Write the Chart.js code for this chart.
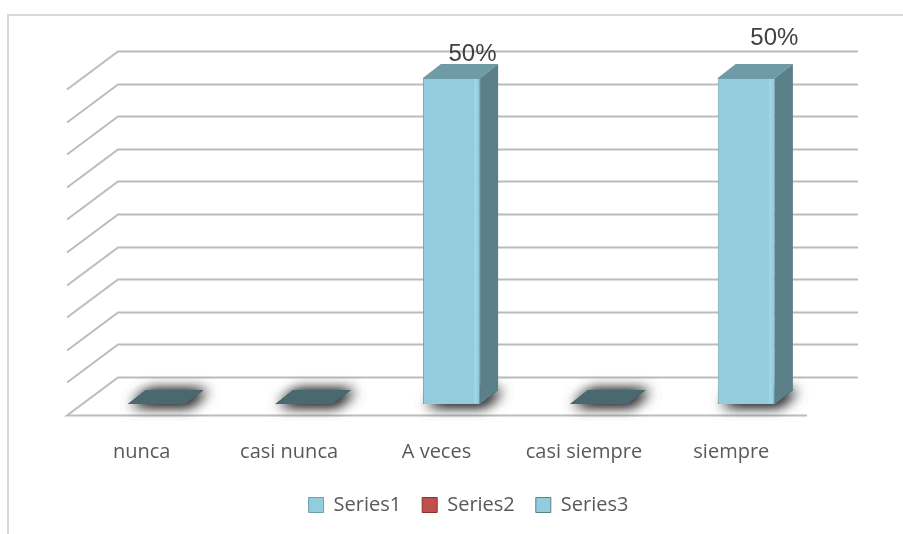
<!DOCTYPE html>
<html>
<head>
<meta charset="utf-8">
<script src="https://cdn.jsdelivr.net/npm/chart.js@4.4.1/dist/chart.umd.min.js"></script>
<style>
  html, body { margin: 0; padding: 0; background: #fff; }
  canvas { display: block; }
</style>
</head>
<body>
<canvas id="c" width="903" height="534"></canvas>
<script>
// data
const categories = ['nunca', 'casi nunca', 'A veces', 'casi siempre', 'siempre'];
const series1 = [0, 0, 0.5, 0, 0.5];
const series2 = [null, null, null, null, null];
const series3 = [null, null, null, null, null];
const seriesNames = ['Series1', 'Series2', 'Series3'];
const yMax = 0.5;
const yStep = 0.05;

// look of the fake 3d scene
const FRONT = '#93cddd', SIDE = '#5c808a', TOP = '#6f9ba7', FLAT = '#4a6870';
const GRID = '#bcbcbc';
const BAR_DX = 18, BAR_DY = 14;    // depth of one bar
const WALL_DX = 51, WALL_DY = 38;  // depth of the floor
const BACK_UP = 27;                // back wall sits this far above the bar fronts
const labelNudge = { 2: [12, -3], 4: [19, -19] };

function poly(ctx, pts, fill) {
  ctx.beginPath();
  ctx.moveTo(pts[0][0], pts[0][1]);
  for (let i = 1; i < pts.length; i++) ctx.lineTo(pts[i][0], pts[i][1]);
  ctx.closePath();
  ctx.fillStyle = fill;
  ctx.fill();
}

function footprint(bar) {
  const x0 = bar.x - bar.width / 2, x1 = bar.x + bar.width / 2, b = bar.base;
  return [[x0, b], [x1, b], [x1 + BAR_DX, b - BAR_DY], [x0 + BAR_DX, b - BAR_DY]];
}

const scene3d = {
  id: 'scene3d',
  beforeDraw(chart) {
    const ctx = chart.ctx;
    ctx.save();
    ctx.fillStyle = '#fff';
    ctx.fillRect(0, 0, chart.width, chart.height);
    ctx.strokeStyle = '#d9d9d9';
    ctx.lineWidth = 2;
    ctx.beginPath();
    ctx.moveTo(8, chart.height);
    ctx.lineTo(8, 15);
    ctx.lineTo(chart.width, 15);
    ctx.stroke();
    ctx.restore();
  },
  afterLayout(chart) {
    // legend sits a bit right of the plot centre
    chart.legend.left += 17;
    chart.legend.right += 17;
  },
  beforeDatasetsDraw(chart) {
    const { ctx, chartArea: a, scales: { y } } = chart;
    const backL = a.left + 35, backR = a.right + 38;
    ctx.save();
    ctx.strokeStyle = GRID;
    ctx.lineWidth = 2;
    y.ticks.forEach(t => {
      const by = Math.round(y.getPixelForValue(t.value) - BACK_UP) + 0.5;
      ctx.beginPath();
      ctx.moveTo(backR, by);
      ctx.lineTo(backL, by);
      ctx.lineTo(backL - WALL_DX, by + WALL_DY);
      if (t.value === 0) ctx.lineTo(backR - WALL_DX, by + WALL_DY);
      ctx.stroke();
    });
    // soft shadows on the floor, under every bar
    chart.getDatasetMeta(0).data.forEach(bar => {
      ctx.save();
      ctx.shadowColor = 'rgba(0,0,0,0.6)';
      ctx.shadowBlur = 14;
      ctx.shadowOffsetX = 4;
      ctx.shadowOffsetY = 1;
      for (let k = 0; k < 3; k++) poly(ctx, footprint(bar), FLAT);
      ctx.restore();
    });
    ctx.restore();
  },
  afterDatasetsDraw(chart) {
    const ctx = chart.ctx;
    const meta = chart.getDatasetMeta(0);
    ctx.save();
    meta.data.forEach((bar, i) => {
      const v = series1[i];
      const x0 = bar.x - bar.width / 2, x1 = bar.x + bar.width / 2;
      const top = bar.y, b = bar.base;
      if (!v) {
        poly(ctx, footprint(bar), FLAT);
        return;
      }
      poly(ctx, [[x0, top], [x1, top], [x1 + BAR_DX, top - BAR_DY], [x0 + BAR_DX, top - BAR_DY]], TOP);
      poly(ctx, [[x1, top], [x1 + BAR_DX, top - BAR_DY], [x1 + BAR_DX, b - BAR_DY], [x1, b]], SIDE);
      ctx.fillStyle = 'rgba(175,225,238,0.45)';
      ctx.fillRect(x1 - 6, top + 1, 3, b - top - 2);
      const n = labelNudge[i] || [15, -11];
      ctx.fillStyle = '#404040';
      ctx.font = '24px "Liberation Sans", Arial, sans-serif';
      ctx.textAlign = 'center';
      ctx.textBaseline = 'alphabetic';
      ctx.fillText(Math.round(v * 100) + '%', bar.x + BAR_DX / 2 + n[0], top - BAR_DY + n[1]);
    });
    ctx.restore();
  }
};

new Chart(document.getElementById('c'), {
  type: 'bar',
  data: {
    labels: categories,
    datasets: [
      { label: seriesNames[0], data: series1, backgroundColor: FRONT, borderColor: '#6f9fac', borderWidth: 1, grouped: false },
      { label: seriesNames[1], data: series2, backgroundColor: '#c0504d', borderColor: '#8e2f2c', borderWidth: 1, grouped: false },
      { label: seriesNames[2], data: series3, backgroundColor: FRONT, borderColor: '#5c808a', borderWidth: 1, grouped: false }
    ]
  },
  options: {
    responsive: false,
    animation: false,
    categoryPercentage: 1,
    barPercentage: 0.388,
    layout: { padding: { left: 83, right: 83, top: 78, bottom: 9 } },
    scales: {
      x: {
        grid: { display: false, drawTicks: false },
        border: { display: false },
        ticks: {
          color: '#595959',
          font: { family: 'Open Sans', size: 20 },
          padding: 36,
          labelOffset: -15,
          maxRotation: 0,
          autoSkip: false
        },
        afterFit(s) { s.height = 70; }
      },
      y: {
        display: false,
        min: 0,
        max: yMax,
        ticks: { stepSize: yStep }
      }
    },
    plugins: {
      legend: {
        position: 'bottom',
        labels: {
          boxWidth: 15,
          boxHeight: 15,
          padding: 21,
          color: '#595959',
          font: { family: 'Open Sans', size: 20 }
        }
      },
      tooltip: { enabled: false }
    }
  },
  plugins: [scene3d]
});
</script>
</body>
</html>
